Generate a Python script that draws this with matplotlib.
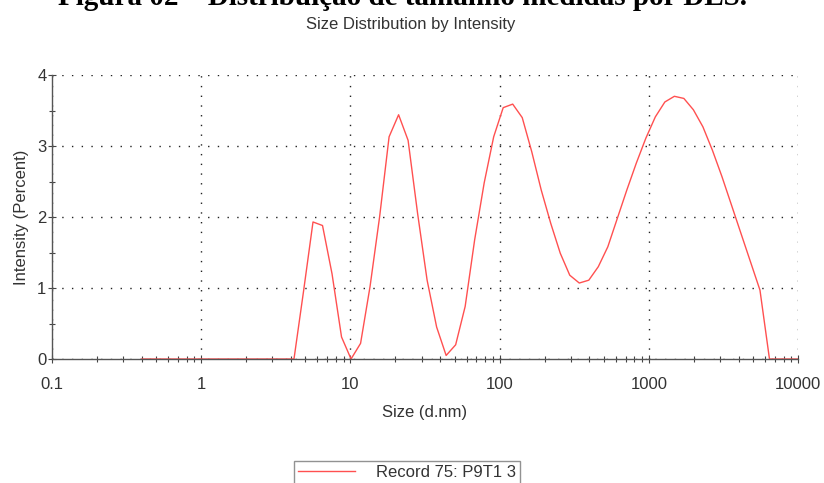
import matplotlib
matplotlib.use("Agg")
import matplotlib.pyplot as plt
from matplotlib.ticker import FixedLocator, FixedFormatter

# Size bins (d.nm)
sizes = [0.4, 0.4632, 0.5365, 0.6213, 0.7195, 0.8332, 0.9649, 1.117, 1.294, 1.499,
         1.736, 2.01, 2.328, 2.696, 3.122, 3.615, 4.187, 4.849, 5.615, 6.503,
         7.531, 8.721, 10.1, 11.7, 13.54, 15.69, 18.17, 21.04, 24.36, 28.21,
         32.67, 37.84, 43.82, 50.75, 58.77, 68.06, 78.82, 91.28, 105.7, 122.4,
         141.8, 164.2, 190.1, 220.2, 255.0, 295.3, 342.0, 396.1, 458.7, 531.2,
         615.1, 712.4, 825.0, 955.4, 1106, 1281, 1484, 1718, 1990, 2305,
         2669, 3091, 3580, 4145, 4801, 5560, 6439, 7456, 8635, 10000]
# Intensity (%)
intensity = [0, 0, 0, 0, 0, 0, 0, 0, 0, 0,
             0, 0, 0, 0, 0, 0, 0, 0.95, 1.93, 1.88,
             1.2, 0.31, 0.0, 0.22, 1.02, 2.0, 3.13, 3.44, 3.08, 2.05,
             1.11, 0.45, 0.05, 0.2, 0.74, 1.68, 2.48, 3.13, 3.54, 3.59,
             3.40, 2.92, 2.38, 1.91, 1.49, 1.18, 1.07, 1.11, 1.30, 1.58,
             1.98, 2.38, 2.76, 3.11, 3.41, 3.62, 3.70, 3.67, 3.51, 3.27,
             2.94, 2.57, 2.17, 1.77, 1.37, 0.97, 0.0, 0.0, 0.0, 0.0]

x_major = [0.1, 1, 10, 100, 1000, 10000]
x_labels = ["0.1", "1", "10", "100", "1000", "10000"]
y_major = [0, 1, 2, 3, 4]
y_labels = ["0", "1", "2", "3", "4"]

series_label = "Record 75: P9T1 3"
chart_title = "Size Distribution by Intensity"
caption = "Figura 02 \u2013 Distribui\u00e7\u00e3o de tamanho medidas por DLS."

plt.rcParams['font.family'] = ['Liberation Sans', 'DejaVu Sans']
txt = '#333333'
fs = 12

fig = plt.figure(figsize=(8.24, 4.83), dpi=100)
ax = fig.add_axes([52/824, 1-359/483, (798-52)/824, (359-75)/483])

ax.plot(sizes, intensity, color='#ff5050', lw=1.0, label=series_label)

ax.set_xscale('log')
ax.set_xlim(0.1, 10000)
ax.set_ylim(0, 4)

ax.xaxis.set_major_locator(FixedLocator(x_major))
ax.xaxis.set_major_formatter(FixedFormatter(x_labels))
minors = [m * 10.0**e for e in range(-1, 4) for m in range(2, 10)]
ax.xaxis.set_minor_locator(FixedLocator(minors))
ax.yaxis.set_major_locator(FixedLocator(y_major))
ax.yaxis.set_major_formatter(FixedFormatter(y_labels))
ax.yaxis.set_minor_locator(FixedLocator([0.5, 1.5, 2.5, 3.5]))

for s in ['top', 'right']:
    ax.spines[s].set_visible(False)
for s in ['left', 'bottom']:
    ax.spines[s].set_color('#555555')
    ax.spines[s].set_linewidth(1.0)

ax.tick_params(which='major', direction='inout', length=6, width=0.8,
               color='#444444', labelsize=fs, labelcolor=txt)
ax.tick_params(which='minor', direction='inout', length=5, width=0.8,
               color='#444444')
ax.tick_params(axis='x', which='major', pad=10)
ax.tick_params(axis='y', which='major', pad=1)

ax.grid(True, which='major', color='#222222', lw=1.0, linestyle=(0, (1.0, 6.0)))
ax.set_axisbelow(True)

ax.set_xlabel("Size (d.nm)", fontsize=fs, color=txt, labelpad=9)
ax.set_ylabel("Intensity (Percent)", fontsize=fs, color=txt, labelpad=6)

fig.text(411/824, 1-24/483, chart_title, ha='center', va='center',
         fontsize=fs, color=txt)
fig.text(403/824, 1-5/483, caption, ha='center', va='baseline',
         fontsize=21, fontweight='bold', family=['Liberation Serif', 'DejaVu Serif'],
         color='black')

leg = fig.legend(loc='upper left', bbox_to_anchor=(294/824, 1-461/483),
                 fontsize=fs, frameon=True, fancybox=False, handlelength=3.4,
                 handletextpad=1.25, borderpad=0.25, borderaxespad=0)
leg.get_frame().set_edgecolor('#777777')
leg.get_frame().set_linewidth(1.0)
for t in leg.get_texts():
    t.set_color(txt)

fig.savefig("out.png", dpi=100)
